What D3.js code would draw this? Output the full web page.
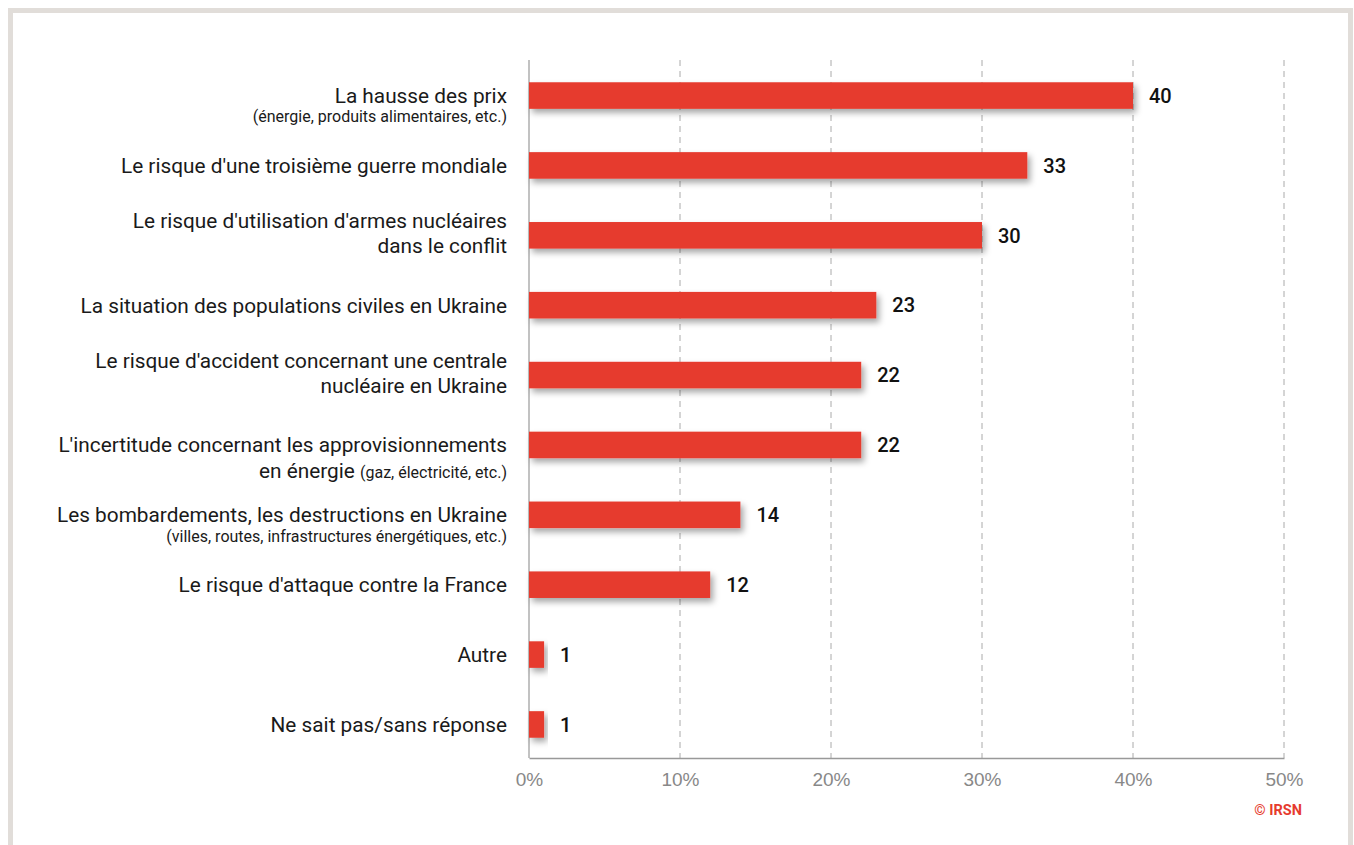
<!DOCTYPE html>
<html>
<head>
<meta charset="utf-8">
<script src="https://cdn.jsdelivr.net/npm/d3@7"></script>
<style>
  html, body { margin: 0; padding: 0; background: #fff; }
  svg { display: block; font-family: Roboto, "Noto Sans", sans-serif; }
</style>
</head>
<body>
<div id="chart"></div>
<script>
// each label line: [main text, small text]
const labelLines = [
    [["La hausse des prix", ""], ["", "(énergie, produits alimentaires, etc.)"]],
    [["Le risque d'une troisième guerre mondiale", ""]],
    [["Le risque d'utilisation d'armes nucléaires", ""], ["dans le conflit", ""]],
    [["La situation des populations civiles en Ukraine", ""]],
    [["Le risque d'accident concernant une centrale", ""], ["nucléaire en Ukraine", ""]],
    [["L'incertitude concernant les approvisionnements", ""], ["en énergie ", "(gaz, électricité, etc.)"]],
    [["Les bombardements, les destructions en Ukraine", ""], ["", "(villes, routes, infrastructures énergétiques, etc.)"]],
    [["Le risque d'attaque contre la France", ""]],
    [["Autre", ""]],
    [["Ne sait pas/sans réponse", ""]]
];
const values = [40, 33, 30, 23, 22, 22, 14, 12, 1, 1];
const tickValues = [0, 10, 20, 30, 40, 50];
const credit = "© IRSN";

const width = 1354, height = 845;
const margin = { top: 60, left: 529, right: 70, bottom: 87 };
const red = "#e63b2e";

const svg = d3.select("#chart")
    .append("svg")
    .attr("width", width)
    .attr("height", height);

// frame
svg.append("rect")
    .attr("x", 10.5).attr("y", 10.5)
    .attr("width", 1340).attr("height", 860)
    .attr("fill", "none")
    .attr("stroke", "#e1ddd9")
    .attr("stroke-width", 5);

const defs = svg.append("defs");
const shadow = defs.append("filter")
    .attr("id", "shadow")
    .attr("x", "-10%").attr("y", "-30%")
    .attr("width", "130%").attr("height", "190%");
shadow.append("feDropShadow")
    .attr("dx", 3).attr("dy", 4)
    .attr("stdDeviation", 3)
    .attr("flood-color", "#000")
    .attr("flood-opacity", 0.35);

const x = d3.scaleLinear()
    .domain([0, 50])
    .range([margin.left, margin.left + 755]);

const y = d3.scaleBand()
    .domain(d3.range(values.length))
    .range([margin.top + 2, height - margin.bottom])
    .paddingInner(0.62)
    .paddingOuter(0.29);

// dashed gridlines
svg.append("g")
    .selectAll("line")
    .data(tickValues.filter(d => d > 0))
    .join("line")
    .attr("x1", d => x(d)).attr("x2", d => x(d))
    .attr("y1", margin.top).attr("y2", height - margin.bottom)
    .attr("stroke", "#aaa")
    .attr("stroke-width", 1)
    .attr("stroke-dasharray", "6,5");

// axes lines
svg.append("line")
    .attr("x1", x(0)).attr("x2", x(0))
    .attr("y1", margin.top).attr("y2", height - margin.bottom)
    .attr("stroke", "#999").attr("stroke-width", 1.2);

const axis = d3.axisBottom(x)
    .tickValues(tickValues)
    .tickSize(0)
    .tickPadding(15)
    .tickFormat(d => d + "%");

const gAxis = svg.append("g")
    .attr("transform", `translate(0, ${height - margin.bottom})`)
    .call(axis);
gAxis.select(".domain").attr("stroke", "#999").attr("stroke-width", 1.5);
gAxis.selectAll("text")
    .attr("fill", "#888")
    .style("font-size", "19px")
    .style("font-weight", 500);

// bars
svg.append("g")
    .selectAll("rect")
    .data(values)
    .join("rect")
    .attr("x", x(0))
    .attr("y", (d, i) => y(i))
    .attr("width", d => x(d) - x(0))
    .attr("height", y.bandwidth())
    .attr("fill", red)
    .attr("filter", "url(#shadow)");

// value labels
svg.append("g")
    .selectAll("text")
    .data(values)
    .join("text")
    .attr("x", d => x(d) + 16)
    .attr("y", (d, i) => y(i) + y.bandwidth() / 2)
    .attr("dy", "0.36em")
    .attr("fill", "#111")
    .style("font-size", "20px")
    .style("font-weight", 500)
    .text(d => d);

// category labels
const labels = svg.append("g")
    .selectAll("text")
    .data(labelLines)
    .join("text")
    .attr("text-anchor", "end")
    .attr("fill", "#1a1a1a");

labels.each(function (lines, i) {
    const t = d3.select(this);
    const cy = y(i) + y.bandwidth() / 2;
    let offsets = [0];
    if (lines.length === 2) {
        const plainPair = lines[1][1] === "";
        const mixed = lines[1][0] !== "" && lines[1][1] !== "";
        offsets = plainPair ? [-15, 10] : (mixed ? [0, 26] : [0, 21]);
    }
    lines.forEach((ln, j) => {
        const baseY = cy + offsets[j];
        if (ln[0]) {
            t.append("tspan")
                .attr("x", x(0) - 22)
                .attr("y", baseY)
                .attr("dy", "0.36em")
                .style("font-size", "20.8px")
                .text(ln[0]);
        }
        if (ln[1]) {
            const sp = t.append("tspan")
                .style("font-size", "16px")
                .text(ln[1]);
            if (!ln[0]) sp.attr("x", x(0) - 22).attr("y", baseY).attr("dy", "0.36em");
        }
    });
});

// credit
svg.append("text")
    .attr("x", x(50) + 18)
    .attr("y", height - margin.bottom + 57)
    .attr("text-anchor", "end")
    .attr("fill", red)
    .style("font-size", "14.5px")
    .style("font-weight", 700)
    .text(credit);
</script>
</body>
</html>
